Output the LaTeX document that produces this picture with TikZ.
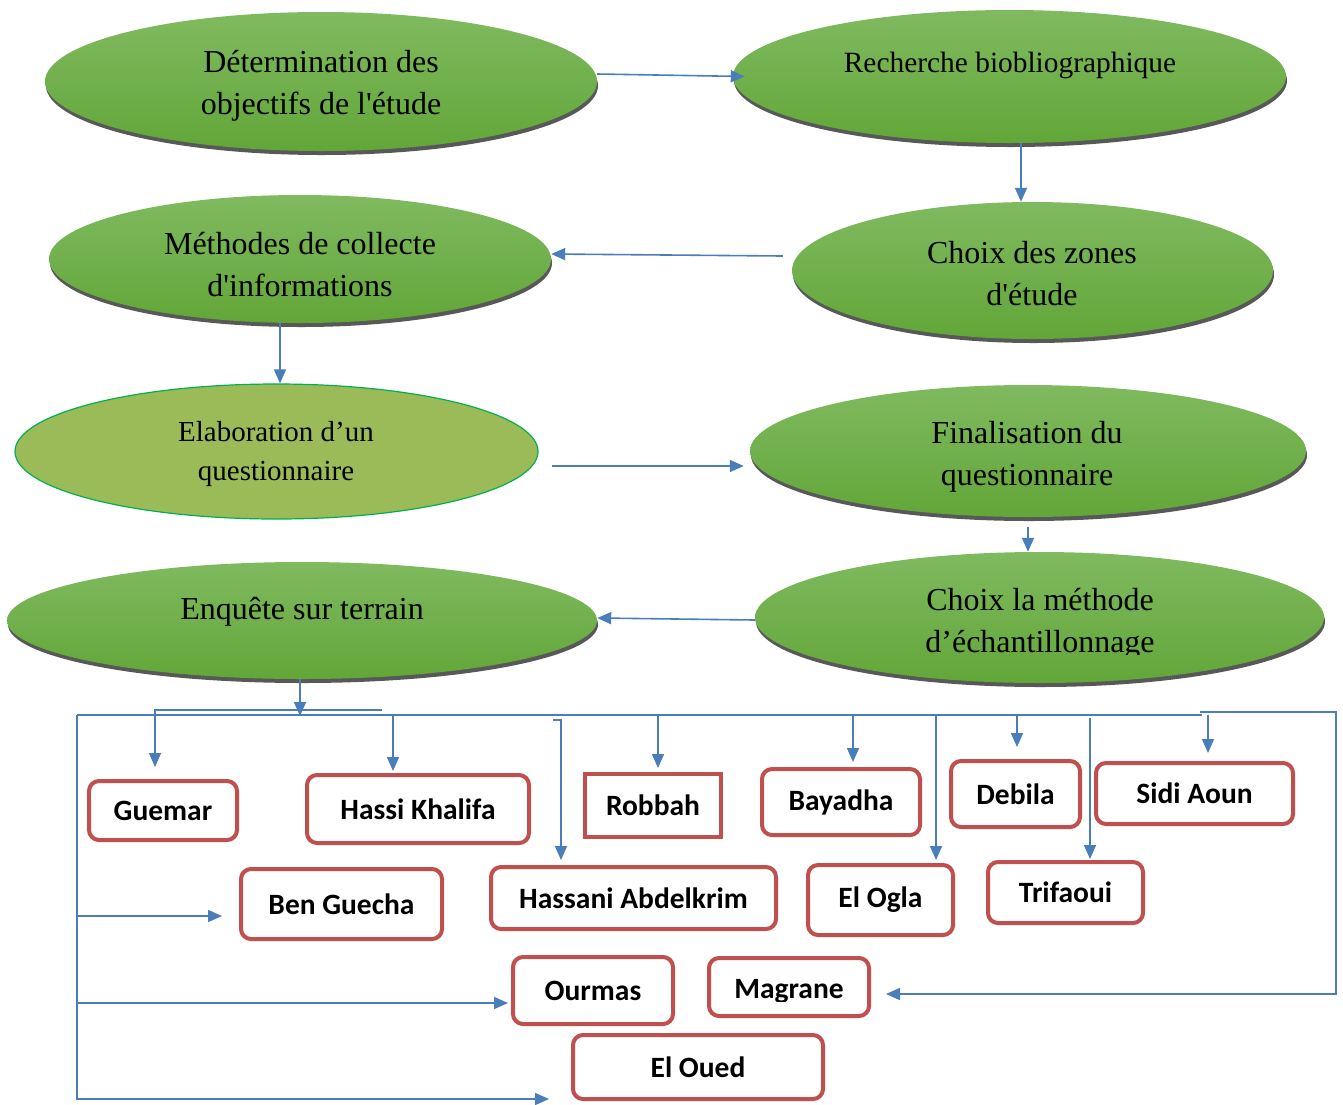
\documentclass[tikz,border=0pt]{standalone}
\usepackage{fontspec}
\setmainfont{Liberation Serif}[Ligatures=TeXOff]
\newfontfamily\boxfont{Carlito}
\usetikzlibrary{arrows.meta,shapes.geometric,shadows}
\definecolor{arrblue}{RGB}{74,126,187}
\definecolor{boxred}{RGB}{192,80,77}
\definecolor{gtop}{RGB}{128,186,96}
\definecolor{gbot}{RGB}{98,166,56}
\definecolor{shadowgray}{RGB}{88,88,88}
\definecolor{olivefill}{RGB}{155,187,89}
\definecolor{olivedraw}{RGB}{0,176,80}
\begin{document}
\begin{tikzpicture}[x=1pt,y=-1pt,
  gell/.style={ellipse, inner sep=0pt, top color=gtop, bottom color=gbot, draw=none,
    general shadow={fill=shadowgray, shadow xshift=1pt, shadow yshift=-4pt}},
  oell/.style={ellipse, inner sep=0pt, fill=olivefill, draw=olivedraw, line width=1.2pt},
  etext/.style={align=center, font=\fontsize{32}{42}\selectfont, text=black, inner sep=0pt},
  zbox/.style={draw=boxred, line width=4pt, rounded corners=10pt, fill=white,
    font=\boxfont\bfseries\fontsize{29.5}{32}\selectfont, inner sep=0pt},
  btext/.style={font=\boxfont\bfseries\fontsize{29.5}{32}\selectfont, inner sep=0pt},
  ln/.style={draw=arrblue, line width=1.6pt},
  arr/.style={draw=arrblue, line width=1.6pt, -{Triangle[length=14pt,width=12pt]}}
]
\useasboundingbox (0,0) rectangle (1343,1104);

% ellipses
\node[gell, minimum width=552pt, minimum height=139pt] (e1) at (321,81.5) {};
\node[gell, minimum width=553pt, minimum height=133pt] (e2) at (1009.5,76.5) {};
\node[gell, minimum width=502pt, minimum height=128pt] (e3) at (300,259) {};
\node[gell, minimum width=481pt, minimum height=137pt] (e4) at (1032.5,270.5) {};
\node[oell, minimum width=523pt, minimum height=135pt] (e5) at (276.5,451.5) {};
\node[gell, minimum width=556pt, minimum height=132pt] (e6) at (1028,451) {};
\node[gell, minimum width=590pt, minimum height=117pt] (e7) at (302,620.5) {};
\node[gell, minimum width=569pt, minimum height=131pt] (e8) at (1039.5,617.5) {};

% ellipse texts
\node[etext] (t1) at (321,86) {Détermination des\\objectifs de l'étude};
\node[etext, font=\fontsize{29.4}{38}\selectfont] (t2) at (1010,65) {Recherche biobliographique};
\node[etext] (t3) at (300,265) {Méthodes de collecte\\d'informations};
\node[etext] (t4) at (1032,274) {Choix des zones\\d'étude};
\node[etext, font=\fontsize{29}{39}\selectfont] (t5) at (276,454) {Elaboration d’un\\questionnaire};
\node[etext] (t6) at (1027,457) {Finalisation du\\questionnaire};
\node[etext] (t7) at (302,612) {Enquête sur terrain};
\begin{scope}
\clip (750,550) rectangle (1330,654);
\node[etext] (t8) at (1040,624) {Choix la méthode\\d’échantillonnage};
\end{scope}

% flow arrows
\draw[arr] ([yshift=7.5pt]e1.east) -- ([xshift=12pt]e2.west);
\draw[arr] ([xshift=11.5pt]e2.south) -- ([xshift=-11.5pt]e4.north);
\draw[arr] ([xshift=-9pt,yshift=14.5pt]e4.west) -- ([yshift=5pt]e3.east);
\draw[arr] ([xshift=-20pt]e3.south) -- ([xshift=3.5pt]e5.north);
\draw[arr] ([xshift=13pt,yshift=-14.5pt]e5.east) -- ([xshift=-6pt,yshift=-15pt]e6.west);
\draw[arr] ([yshift=-10pt]e6.south) -- ([xshift=-11.5pt]e8.north);
\draw[arr] ([yshift=-2.5pt]e8.west) -- ([yshift=2.5pt]e7.east);

% boxes
\node[zbox, minimum width=148pt, minimum height=59pt] (guemar) at (163,810.5) {Guemar};
\node[zbox, minimum width=222pt, minimum height=68pt] (hk) at (418,809) {Hassi Khalifa};
\node[zbox, sharp corners, minimum width=136pt, minimum height=63pt] (robbah) at (653,805.5) {Robbah};
\node[zbox, minimum width=158pt, minimum height=66pt] (bayadha) at (841,802) {Bayadha};
\node[zbox, minimum width=129pt, minimum height=66pt] (debila) at (1015.5,794) {Debila};
\node[zbox, minimum width=197pt, minimum height=61pt] (sidi) at (1194.5,793.5) {Sidi Aoun};
\node[zbox, minimum width=201pt, minimum height=70pt] (benguecha) at (341.5,904) {Ben Guecha};
\node[zbox, minimum width=285pt, minimum height=62pt] (hassani) at (633.5,898) {Hassani Abdelkrim};
\node[zbox, minimum width=145pt, minimum height=70pt] (elogla) at (880.5,900) {El Ogla};
\node[zbox, minimum width=155pt, minimum height=61pt] (trifaoui) at (1065.5,892.5) {Trifaoui};
\node[zbox, minimum width=160pt, minimum height=67pt] (ourmas) at (593,990.5) {Ourmas};
\node[zbox, minimum width=160pt, minimum height=58pt] (magrane) at (789,987) {};
\begin{scope}
\clip (710,958) rectangle (870,1001);
\node[btext] (tmag) at (789,991) {Magrane};
\end{scope}
\node[zbox, minimum width=250pt, minimum height=64pt] (eloued) at (698,1067) {El Oued};

% bus
\coordinate (bT) at (300,716);
\coordinate (bL) at (77,715);
\coordinate (bR) at (1202,715);
\draw[arr] ([xshift=-2pt]e7.south) -- (bT);
\draw[ln] (bL) -- (bR);

\coordinate (gA) at (382,710);
\coordinate (hkA) at (393,715);
\coordinate (haA) at (553,720);
\coordinate (robA) at (658,715);
\coordinate (bayA) at (853,715);
\coordinate (oglA) at (936,715);
\coordinate (debA) at (1017,715);
\coordinate (triA) at (1090,718);
\coordinate (sidA) at (1208,715);
\coordinate (rA) at (1200,712);
\coordinate (rB) at (1336,712);
\coordinate (l1) at (77,916);
\coordinate (l2) at (77,1003);

\draw[arr] (gA) -| ([xshift=-8pt,yshift=12pt]guemar.north);
\draw[arr] (hkA) -- ([xshift=-25pt,yshift=2pt]hk.north);
\draw[arr] (haA) -| ([xshift=-72.5pt,yshift=5pt]hassani.north);
\draw[arr] (robA) -- ([xshift=5pt,yshift=4pt]robbah.north);
\draw[arr] (bayA) -- ([xshift=12pt,yshift=5pt]bayadha.north);
\draw[arr] (oglA) -- ([xshift=55.5pt,yshift=3pt]elogla.north);
\draw[arr] (debA) -- ([xshift=1.5pt,yshift=12pt]debila.north);
\draw[arr] (triA) -- ([xshift=24.5pt,yshift=1pt]trifaoui.north);
\draw[arr] (sidA) -- ([xshift=13.5pt,yshift=8pt]sidi.north);
\draw[arr] (rA) -- (rB) |- ([xshift=15pt,yshift=-7pt]magrane.east);
\draw[arr] (bL) |- ([xshift=-22pt,yshift=-32pt]eloued.west);
\draw[arr] (l1) -- ([xshift=-17pt,yshift=-12pt]benguecha.west);
\draw[arr] (l2) -- ([xshift=-3pt,yshift=-12.5pt]ourmas.west);
\end{tikzpicture}
\end{document}
